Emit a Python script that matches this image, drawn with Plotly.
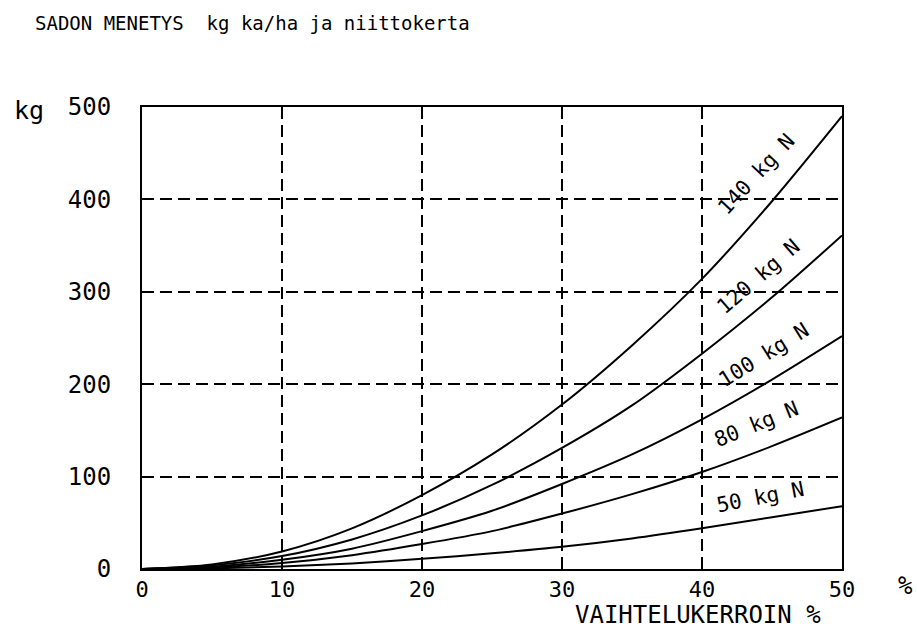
import plotly.graph_objects as go

# Data
x_vals = [0, 5, 10, 15, 20, 25, 30, 35, 40, 45, 50]
loss_140 = [0, 5, 19, 44, 80, 124, 178, 242, 314, 398, 490]
loss_120 = [0, 4, 14, 32, 58, 91, 131, 177, 233, 294, 361]
loss_100 = [0, 2.5, 10, 22, 41, 63, 92, 124, 162, 205, 252]
loss_80 = [0, 1.6, 6.5, 15, 27, 41, 60, 81, 105, 133, 164]
loss_50 = [0, 0.7, 2.7, 6, 11, 17, 24, 33, 44, 56, 68]

series_names = ["140 kg N", "120 kg N", "100 kg N", "80 kg N", "50 kg N"]
series_values = [loss_140, loss_120, loss_100, loss_80, loss_50]

x_ticks = [0, 10, 20, 30, 40, 50]
y_ticks = [0, 100, 200, 300, 400, 500]

title_text = "SADON MENETYS  kg ka/ha ja niittokerta"
x_title = "VAIHTELUKERROIN %"
y_unit = "kg"
x_unit = "%"

# label placement (data coords) and angles
label_x = [43.9, 44.0, 44.4, 43.9, 44.2]
label_y = [427, 316, 232, 157, 78]
label_angle = [-47, -41, -32, -22, -11]

FONT = "DejaVu Sans Mono"

fig = go.Figure()
for name, vals in zip(series_names, series_values):
    fig.add_trace(go.Scatter(
        x=x_vals, y=vals, mode="lines", name=name,
        line=dict(color="black", width=2, shape="spline", smoothing=0.8),
        showlegend=False, hoverinfo="x+y+name",
    ))

annotations = []
for name, lx, ly, ang in zip(series_names, label_x, label_y, label_angle):
    annotations.append(dict(
        x=lx, y=ly, xref="x", yref="y", text=name, textangle=ang,
        showarrow=False, font=dict(family=FONT, size=21, color="black"),
        xanchor="center", yanchor="middle",
    ))

annotations += [
    dict(x=-0.1557, y=1.182, xref="paper", yref="paper", text=title_text,
         showarrow=False, xanchor="left", yanchor="middle",
         font=dict(family=FONT, size=19, color="black")),
    dict(x=-0.1857, y=0.993, xref="paper", yref="paper", text=y_unit,
         showarrow=False, xanchor="left", yanchor="middle",
         font=dict(family=FONT, size=25, color="black")),
    dict(x=1.0914, y=-0.037, xref="paper", yref="paper", text=x_unit,
         showarrow=False, xanchor="center", yanchor="middle",
         font=dict(family=FONT, size=24, color="black")),
    dict(x=0.794, y=-0.1, xref="paper", yref="paper", text=x_title,
         showarrow=False, xanchor="center", yanchor="middle",
         font=dict(family=FONT, size=24, color="black")),
]

fig.update_layout(
    width=917, height=629,
    margin=dict(l=142, r=75, t=107, b=60),
    paper_bgcolor="white", plot_bgcolor="white",
    annotations=annotations,
    xaxis=dict(
        range=[0, 50], tickvals=x_ticks, ticktext=[str(v) for v in x_ticks],
        showgrid=True, gridcolor="black", gridwidth=1.5, griddash="12px,6px",
        showline=True, linecolor="black", linewidth=2, mirror=True,
        zeroline=False, ticks="", ticklabelstandoff=0,
        tickfont=dict(family=FONT, size=22, color="black"),
    ),
    yaxis=dict(
        range=[0, 500], tickvals=y_ticks, ticktext=[str(v) for v in y_ticks],
        showgrid=True, gridcolor="black", gridwidth=1.5, griddash="12px,6px",
        showline=True, linecolor="black", linewidth=2, mirror=True,
        zeroline=False, ticks="", ticklabelstandoff=24,
        tickfont=dict(family=FONT, size=24, color="black"),
    ),
)

fig.write_html("out.html")
